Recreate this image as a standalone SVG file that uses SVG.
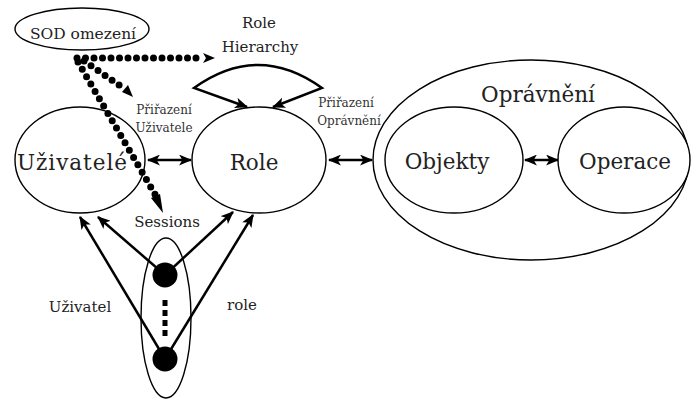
<svg xmlns="http://www.w3.org/2000/svg" width="691" height="399" viewBox="0 0 691 399">
<style>
.node{fill:#fff;stroke:#000;stroke-width:1.4}
.t{font-family:"DejaVu Serif","Liberation Serif",serif;fill:#222;text-anchor:middle}
.big{font-size:21.5px}
.mid{font-size:15px}
.sm{font-size:12px;fill:#333}
.ln{fill:none;stroke:#000;stroke-width:2.5}
.dot{fill:none;stroke:#000;stroke-width:7;stroke-dasharray:0 8.5;stroke-linecap:round}
</style>
<defs>
<marker id="ah" viewBox="0 0 12 10" refX="11" refY="5" markerWidth="13" markerHeight="11" markerUnits="userSpaceOnUse" orient="auto-start-reverse">
<path d="M0,0 L12,5 L0,10 L3,5 z" fill="#000"/>
</marker>
</defs>
<rect width="691" height="399" fill="#fff"/>
<g id="sod">
<ellipse class="node" cx="82" cy="29" rx="67" ry="21"/>
<text class="t" x="83" y="39" style="font-size:15.5px">SOD omezení</text>
</g>
<g id="role-hierarchy">
<text class="t mid" x="259" y="28">Role</text>
<text class="t mid" x="260" y="52">Hierarchy</text>
</g>
<g id="uzivatele">
<ellipse class="node" cx="80" cy="160" rx="65" ry="53"/>
<text class="t big" x="72" y="170" textLength="110">Uživatelé</text>
</g>
<g id="role">
<ellipse class="node" cx="259" cy="160" rx="67" ry="53"/>
<text class="t big" x="254" y="170">Role</text>
</g>
<g id="opravneni">
<ellipse class="node" cx="531" cy="160" rx="158" ry="100"/>
<text class="t big" x="538" y="102">Oprávnění</text>
</g>
<g id="objekty">
<ellipse class="node" cx="454" cy="160" rx="69" ry="53"/>
<text class="t big" x="447" y="169">Objekty</text>
</g>
<g id="operace">
<ellipse class="node" cx="624" cy="160" rx="66" ry="53"/>
<text class="t big" x="625" y="169">Operace</text>
</g>
<g id="sessions">
<ellipse class="node" cx="166" cy="318" rx="25" ry="80" style="fill:none"/>
<circle cx="165" cy="275" r="12.5" fill="#000"/>
<circle cx="165" cy="359" r="12.5" fill="#000"/>
<path d="M165,300 L165,337" stroke="#000" stroke-width="5" stroke-dasharray="6 4"/>
<text class="t mid" x="167" y="227">Sessions</text>
</g>
<g id="labels">
<text class="t sm" x="164" y="114">Přiřazení</text>
<text class="t sm" x="164" y="132">Uživatele</text>
<text class="t sm" x="346" y="107">Přiřazení</text>
<text class="t sm" x="349" y="125">Oprávnění</text>
<text class="t mid" x="80" y="312">Uživatel</text>
<text class="t mid" x="242" y="310">role</text>
</g>
<g id="connectors">
<path class="ln" d="M148,160 L191,160" marker-start="url(#ah)" marker-end="url(#ah)"/>
<path class="ln" d="M329,160 L372,160" marker-start="url(#ah)" marker-end="url(#ah)"/>
<path class="ln" d="M525,160 L558,160" marker-start="url(#ah)" marker-end="url(#ah)"/>
<path class="ln" d="M247,107 L194,88 Q258,42 322,88 L273,107" marker-start="url(#ah)" marker-end="url(#ah)"/>
<path class="ln" d="M165,275 L98,217" marker-end="url(#ah)"/>
<path class="ln" d="M165,359 L80,217" marker-end="url(#ah)"/>
<path class="ln" d="M165,275 L233,212" marker-end="url(#ah)"/>
<path class="ln" d="M165,359 L253,215" marker-end="url(#ah)"/>
<path class="dot" d="M77,58 L204,58"/>
<path d="M203,53 L215,58 L203,63 L206,58 z" fill="#000"/>
<path class="dot" d="M84,61 L125,89"/>
<path d="M122,92 L133,97 L128,85 z" fill="#000"/>
<path class="dot" d="M78,62 L156,196"/>
<path d="M151,198 L163,213 L160,194 z" fill="#000"/>
</g>
</svg>
